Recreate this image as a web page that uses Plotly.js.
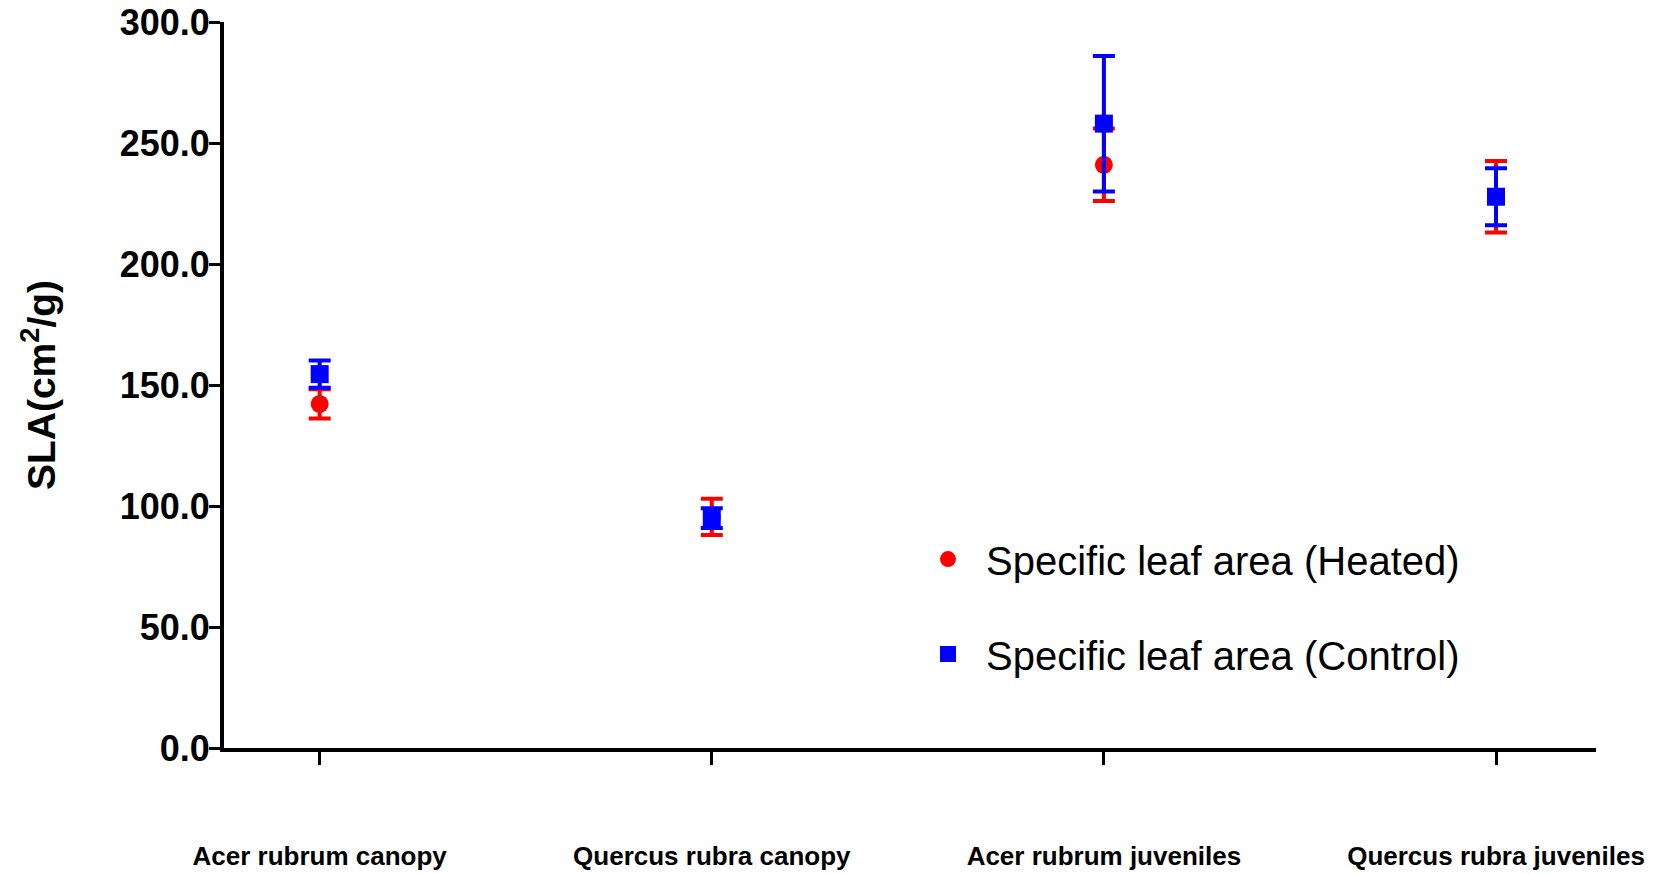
<!DOCTYPE html>
<html><head><meta charset="utf-8">
<script src="https://cdn.plot.ly/plotly-3.0.1.min.js"></script>
<style>html,body{margin:0;padding:0;background:#fff}</style>
</head><body><div id="chart" style="width:1666px;height:874px"></div>
<script>
const categories = ['Acer rubrum canopy', 'Quercus rubra canopy', 'Acer rubrum juveniles', 'Quercus rubra juveniles'];
const xPos = [0, 1, 2, 3];
const heatedMean = [142.2, 95.5, 241.0, 227.8];
const heatedErr = [6.0, 7.5, 15.0, 14.8];
const controlMean = [154.5, 95.0, 258.0, 227.8];
const controlErr = [5.6, 4.1, 28.0, 11.8];
const yTickVals = [0, 50, 100, 150, 200, 250, 300];
const yTickText = ['0.0', '50.0', '100.0', '150.0', '200.0', '250.0', '300.0'];

const heated = {
  x: xPos, y: heatedMean, type: 'scatter', mode: 'markers',
  name: 'Specific leaf area (Heated)', legendgroup: 'h',
  marker: {symbol: 'circle', size: 18, color: '#ff0000'},
  error_y: {type: 'data', array: heatedErr, visible: true, color: '#ff0000', thickness: 4, width: 11},
  cliponaxis: false
};
const control = {
  x: xPos, y: controlMean, type: 'scatter', mode: 'markers',
  name: 'Specific leaf area (Control)', legendgroup: 'c',
  marker: {symbol: 'square', size: 18, color: '#0000ff'},
  error_y: {type: 'data', array: controlErr, visible: true, color: '#0000ff', thickness: 4, width: 11},
  cliponaxis: false
};

const layout = {
  width: 1666, height: 874,
  margin: {l: 224, r: 70, t: 22, b: 126, autoexpand: false},
  paper_bgcolor: '#fff', plot_bgcolor: '#fff',
  font: {family: 'Liberation Sans, Arial, sans-serif', color: '#000'},
  showlegend: true,
  legend: {
    x: 0.5, y: 0.305, xanchor: 'left', yanchor: 'top', xref: 'paper', yref: 'paper',
    font: {family: 'Liberation Sans, Arial, sans-serif', size: 40, color: '#000'},
    bgcolor: 'rgba(0,0,0,0)', borderwidth: 0,
    traceorder: 'grouped', tracegroupgap: 40, itemwidth: 66
  },
  xaxis: {
    range: [-0.244, 3.255], tickmode: 'array', tickvals: xPos, ticktext: categories,
    showgrid: false, zeroline: false, showline: true, linecolor: '#000', linewidth: 4,
    ticks: 'outside', ticklen: 13, tickwidth: 3, tickcolor: '#000',
    tickfont: {family: 'Liberation Sans, Arial, sans-serif', size: 26, color: '#000', weight: 'bold'},
    ticklabelstandoff: 69, automargin: false, fixedrange: true
  },
  yaxis: {
    range: [0, 300], tickmode: 'array', tickvals: yTickVals, ticktext: yTickText,
    showgrid: false, zeroline: false, showline: true, linecolor: '#000', linewidth: 4,
    ticks: 'outside', ticklen: 11, tickwidth: 3, tickcolor: '#000',
    tickfont: {family: 'Liberation Sans, Arial, sans-serif', size: 36, color: '#000', weight: 'bold'},
    ticklabelstandoff: -8,
    title: {text: 'SLA(cm<sup>2</sup>/g)', standoff: 53,
      font: {family: 'Liberation Sans, Arial, sans-serif', size: 39, color: '#000', weight: 'bold'}},
    automargin: false, fixedrange: true
  }
};

Plotly.newPlot('chart', [heated, control], layout, {displayModeBar: false, staticPlot: true});
</script>
</body></html>
